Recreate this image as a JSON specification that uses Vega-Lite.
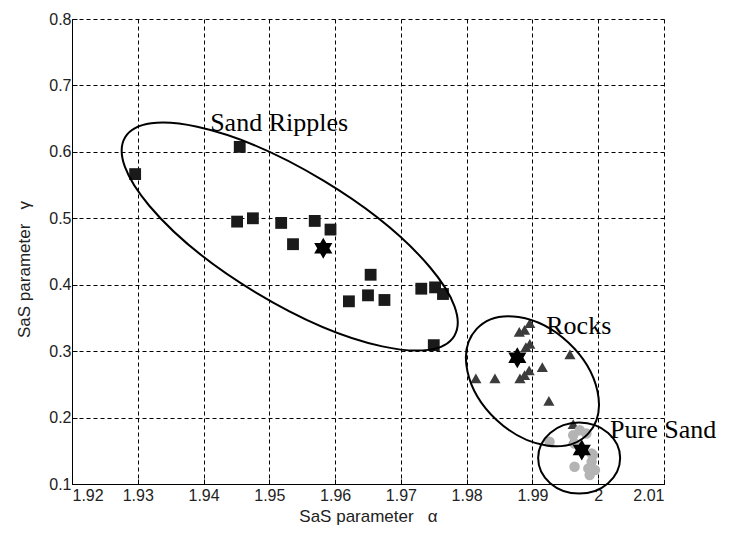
{
  "$schema": "https://vega.github.io/schema/vega-lite/v6.json",
  "width": 592,
  "height": 465,
  "autosize": "none",
  "padding": {"left": 72, "top": 19, "right": 69, "bottom": 50},
  "background": "white",
  "config": {
    "view": {"stroke": null},
    "axis": {
      "labelFont": "Liberation Sans",
      "titleFont": "Liberation Sans",
      "labelFontSize": 16,
      "titleFontSize": 17,
      "titleFontWeight": "normal",
      "labelColor": "#222",
      "titleColor": "#222",
      "domainColor": "black",
      "tickColor": "black",
      "gridColor": "black",
      "gridDash": [4, 3],
      "gridOpacity": 1,
      "gridWidth": 1,
      "tickSize": -5
    }
  },
  "datasets": {
    "ripples": [
      {"alpha": 1.9296, "gamma": 0.5665},
      {"alpha": 1.9455, "gamma": 0.6075},
      {"alpha": 1.9451, "gamma": 0.495},
      {"alpha": 1.9475, "gamma": 0.500},
      {"alpha": 1.9518, "gamma": 0.493},
      {"alpha": 1.9569, "gamma": 0.496},
      {"alpha": 1.9593, "gamma": 0.483},
      {"alpha": 1.9536, "gamma": 0.461},
      {"alpha": 1.9654, "gamma": 0.415},
      {"alpha": 1.9621, "gamma": 0.375},
      {"alpha": 1.9650, "gamma": 0.384},
      {"alpha": 1.9675, "gamma": 0.377},
      {"alpha": 1.9731, "gamma": 0.394},
      {"alpha": 1.9752, "gamma": 0.396},
      {"alpha": 1.9764, "gamma": 0.386},
      {"alpha": 1.9750, "gamma": 0.309}
    ],
    "rocks": [
      {"alpha": 1.9896, "gamma": 0.342},
      {"alpha": 1.9888, "gamma": 0.332},
      {"alpha": 1.9880, "gamma": 0.329},
      {"alpha": 1.9896, "gamma": 0.311},
      {"alpha": 1.9890, "gamma": 0.306},
      {"alpha": 1.9957, "gamma": 0.295},
      {"alpha": 1.9915, "gamma": 0.276},
      {"alpha": 1.9895, "gamma": 0.271},
      {"alpha": 1.9888, "gamma": 0.264},
      {"alpha": 1.9881, "gamma": 0.259},
      {"alpha": 1.9843, "gamma": 0.259},
      {"alpha": 1.9814, "gamma": 0.259},
      {"alpha": 1.9925, "gamma": 0.225},
      {"alpha": 1.9962, "gamma": 0.190},
      {"alpha": 1.9963, "gamma": 0.168}
    ],
    "sand": [
      {"alpha": 1.9926, "gamma": 0.1635},
      {"alpha": 1.9972, "gamma": 0.181},
      {"alpha": 1.9982, "gamma": 0.176},
      {"alpha": 1.9962, "gamma": 0.1735},
      {"alpha": 1.9964, "gamma": 0.161},
      {"alpha": 1.9990, "gamma": 0.146},
      {"alpha": 1.9992, "gamma": 0.1435},
      {"alpha": 1.9990, "gamma": 0.1335},
      {"alpha": 1.9964, "gamma": 0.126},
      {"alpha": 1.9985, "gamma": 0.1235},
      {"alpha": 1.9995, "gamma": 0.121},
      {"alpha": 1.9987, "gamma": 0.1135}
    ],
    "centers": [
      {"alpha": 1.9582, "gamma": 0.455},
      {"alpha": 1.9877, "gamma": 0.290},
      {"alpha": 1.9975, "gamma": 0.151}
    ],
    "ellipses": [
      {"cluster": "Sand Ripples", "alpha": 1.9531, "gamma": 0.4724},
      {"cluster": "Rocks", "alpha": 1.9900, "gamma": 0.2547},
      {"cluster": "Pure Sand", "alpha": 1.9971, "gamma": 0.139}
    ],
    "labels": [
      {"text": "Sand Ripples", "alpha": 1.941, "gamma": 0.6315},
      {"text": "Rocks", "alpha": 1.9921, "gamma": 0.3263},
      {"text": "Pure Sand", "alpha": 2.0018, "gamma": 0.1686}
    ]
  },
  "encoding": {
    "x": {
      "field": "alpha", "type": "quantitative",
      "scale": {"domain": [1.92, 2.01], "nice": false, "zero": false},
      "axis": {
        "title": "SaS parameter\u00a0\u00a0 α",
        "values": [1.92, 1.93, 1.94, 1.95, 1.96, 1.97, 1.98, 1.99, 2.0, 2.01],
        "format": ".2~f",
        "labelPadding": 8,
        "titlePadding": 5
      }
    },
    "y": {
      "field": "gamma", "type": "quantitative",
      "scale": {"domain": [0.1, 0.8], "nice": false, "zero": false},
      "axis": {
        "title": "SaS parameter\u00a0\u00a0 γ",
        "values": [0.1, 0.2, 0.3, 0.4, 0.5, 0.6, 0.7, 0.8],
        "format": ".1f",
        "labelPadding": 6,
        "titlePadding": 15,
        "titleY": 250
      }
    }
  },
  "layer": [
    {
      "data": {"name": "ripples"},
      "mark": {"type": "point", "shape": "square", "filled": true, "size": 140, "color": "#1a1a1a", "opacity": 1}
    },
    {
      "data": {"name": "rocks"},
      "mark": {"type": "point", "shape": "triangle-up", "filled": true, "size": 125, "color": "#3c3c3c", "opacity": 1}
    },
    {
      "data": {"name": "sand"},
      "mark": {"type": "point", "shape": "circle", "filled": true, "size": 110, "color": "#b4b4b4", "opacity": 1}
    },
    {
      "data": {"name": "centers"},
      "mark": {"type": "point", "shape": "M0,-1 L0.289,-0.5 L0.866,-0.5 L0.577,0 L0.866,0.5 L0.289,0.5 L0,1 L-0.289,0.5 L-0.866,0.5 L-0.577,0 L-0.866,-0.5 L-0.289,-0.5 Z", "filled": true, "size": 441, "color": "black", "opacity": 1}
    },
    {
      "data": {"name": "ellipses"},
      "transform": [{"filter": "datum.cluster === 'Sand Ripples'"}],
      "mark": {"type": "point", "shape": "M1,0 C1,0.1878 0.5523,0.34 0,0.34 C-0.5523,0.34 -1,0.1878 -1,0 C-1,-0.1878 -0.5523,-0.34 0,-0.34 C0.5523,-0.34 1,-0.1878 1,0 Z", "filled": false, "size": 147763, "angle": 31.1, "stroke": "black", "strokeWidth": 2, "opacity": 1}
    },
    {
      "data": {"name": "ellipses"},
      "transform": [{"filter": "datum.cluster === 'Rocks'"}],
      "mark": {"type": "point", "shape": "M1,0 C1,0.3811 0.5523,0.69 0,0.69 C-0.5523,0.69 -1,0.3811 -1,0 C-1,-0.3811 -0.5523,-0.69 0,-0.69 C0.5523,-0.69 1,-0.3811 1,0 Z", "filled": false, "size": 23409, "angle": 43.2, "stroke": "black", "strokeWidth": 2, "opacity": 1}
    },
    {
      "data": {"name": "ellipses"},
      "transform": [{"filter": "datum.cluster === 'Pure Sand'"}],
      "mark": {"type": "point", "shape": "M1,0 C1,0.4783 0.5523,0.866 0,0.866 C-0.5523,0.866 -1,0.4783 -1,0 C-1,-0.4783 -0.5523,-0.866 0,-0.866 C0.5523,-0.866 1,-0.4783 1,0 Z", "filled": false, "size": 6724, "angle": 0, "stroke": "black", "strokeWidth": 2, "opacity": 1}
    },
    {
      "data": {"name": "labels"},
      "mark": {"type": "text", "font": "Liberation Serif", "fontSize": 26, "align": "left", "baseline": "alphabetic", "color": "black"},
      "encoding": {"text": {"field": "text"}}
    }
  ]
}
